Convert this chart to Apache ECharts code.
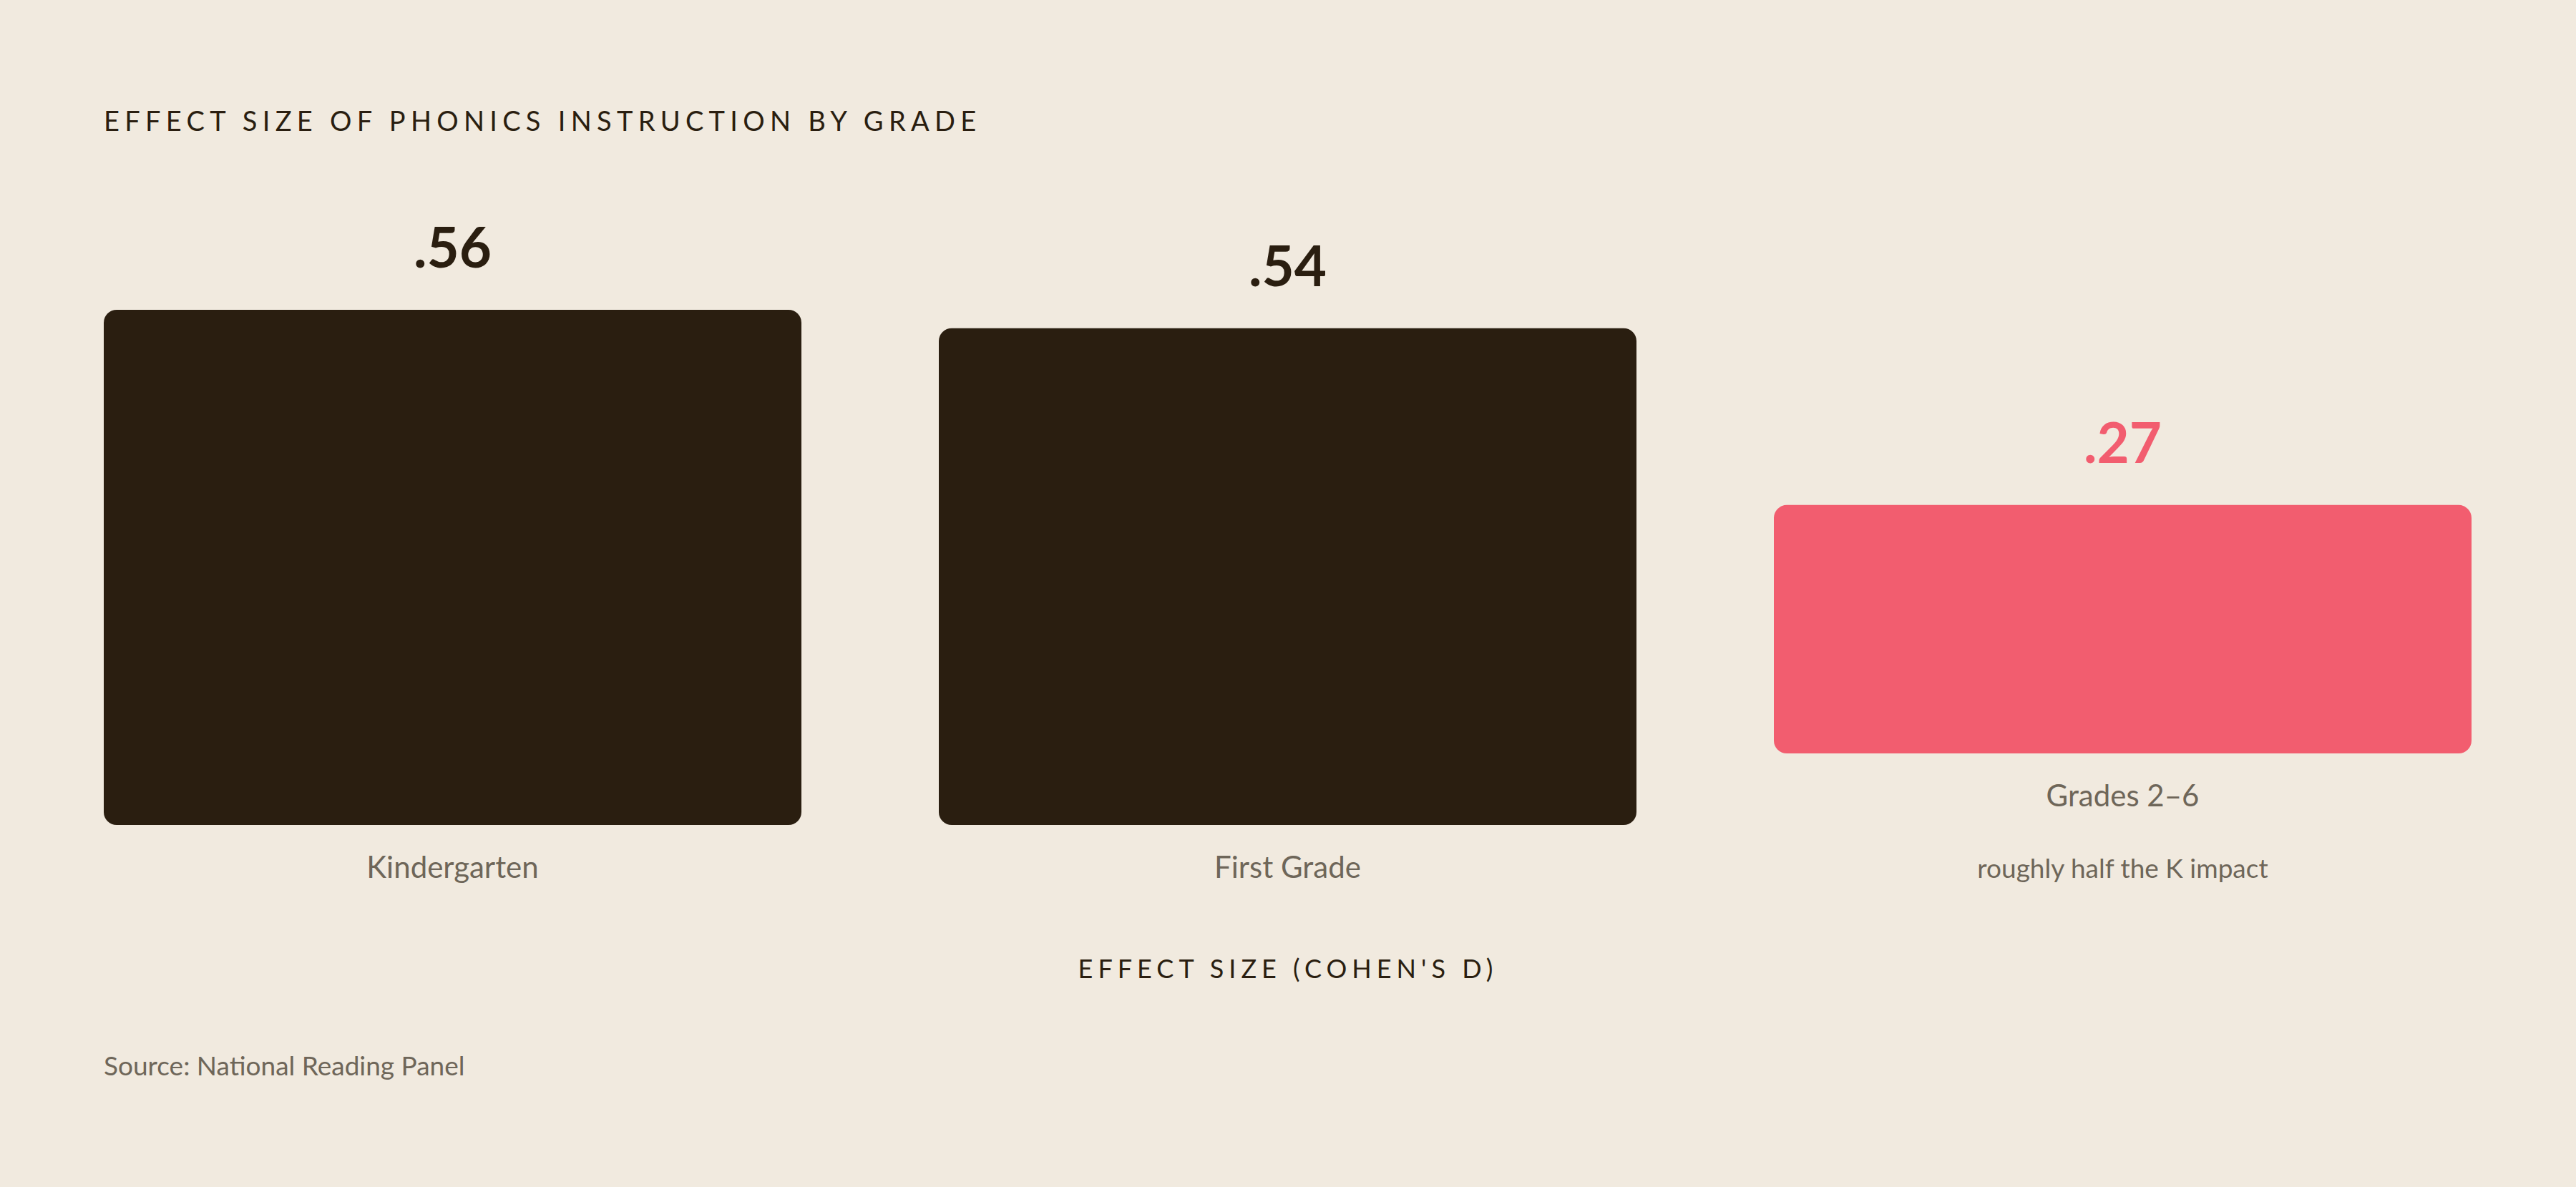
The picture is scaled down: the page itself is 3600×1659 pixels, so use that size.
<!DOCTYPE html>
<html>
<head>
<meta charset="utf-8">
<script src="https://cdn.jsdelivr.net/npm/echarts@6/dist/echarts.min.js"></script>
<style>
  html, body { margin: 0; padding: 0; background: #f1eadf; }
  #chart { width: 3600px; height: 1659px; }
</style>
</head>
<body>
<div id="chart"></div>
<script>
// data
var categories = ['Kindergarten', 'First Grade', 'Grades 2–6'];
var values = [0.56, 0.54, 0.27];
var notes = ['', '', 'roughly half the K impact'];
var highlight = [false, false, true];

var titleText = 'EFFECT SIZE OF PHONICS INSTRUCTION BY GRADE';
var axisTitle = "EFFECT SIZE (COHEN'S D)";
var sourceText = 'Source: National Reading Panel';

var BG = '#f1eadf';
var DARK = '#2a1e10';
var PINK = '#f25d6f';
var GREY = '#6e6659';
var FONT = 'Lato, "Open Sans", sans-serif';

var chart = echarts.init(document.getElementById('chart'), null, { renderer: 'svg' });

var colW = 975, colGap = 192, left0 = 145;
var barBottom = 1153, barH = 720, noteLift = 100;
var ymax = Math.max.apply(null, values);

var grids = [], xAxes = [], yAxes = [], series = [];
categories.forEach(function (cat, i) {
  var lift = notes[i] ? noteLift : 0;
  var col = highlight[i] ? PINK : DARK;
  grids.push({
    left: left0 + i * (colW + colGap),
    width: colW,
    top: barBottom - lift - barH,
    height: barH
  });
  xAxes.push({
    gridIndex: i,
    type: 'category',
    data: [cat],
    axisLine: { show: false },
    axisTick: { show: false },
    axisLabel: { color: GREY, fontSize: 42, fontFamily: FONT, margin: 37 },
    name: notes[i],
    nameLocation: 'middle',
    nameGap: 141,
    nameTextStyle: { color: GREY, fontSize: 37, fontFamily: FONT }
  });
  yAxes.push({
    gridIndex: i,
    type: 'value',
    min: 0,
    max: ymax,
    show: false
  });
  series.push({
    type: 'bar',
    xAxisIndex: i,
    yAxisIndex: i,
    data: [values[i]],
    barWidth: '100%',
    itemStyle: { color: col, borderRadius: 18 },
    label: {
      show: true,
      position: 'top',
      distance: 50,
      color: col,
      fontSize: 78,
      fontWeight: 'bold',
      fontFamily: FONT,
      formatter: function (p) { return String(p.value).replace(/^0/, ''); }
    }
  });
});

var option = {
  backgroundColor: BG,
  animation: false,
  title: [
    {
      text: titleText,
      left: left0,
      top: 149,
      padding: 0,
      textStyle: { color: DARK, fontSize: 38, fontWeight: 'normal', fontFamily: FONT }
    },
    {
      text: axisTitle,
      left: 'center',
      top: 1335,
      padding: 0,
      textStyle: { color: DARK, fontSize: 36, fontWeight: 'normal', fontFamily: FONT }
    },
    {
      text: sourceText,
      left: left0,
      top: 1470,
      padding: 0,
      textStyle: { color: GREY, fontSize: 37, fontWeight: 'normal', fontFamily: FONT }
    }
  ],
  grid: grids,
  xAxis: xAxes,
  yAxis: yAxes,
  series: series
};

chart.setOption(option);

// tracked caps on the two uppercase headings
function spaceOut() {
  var texts = document.querySelectorAll('#chart svg text');
  texts.forEach(function (t) {
    if (t.textContent === titleText) t.style.letterSpacing = '7.3px';
    if (t.textContent === axisTitle) t.style.letterSpacing = '7px';
  });
}
chart.on('finished', spaceOut);
spaceOut();
</script>
</body>
</html>
